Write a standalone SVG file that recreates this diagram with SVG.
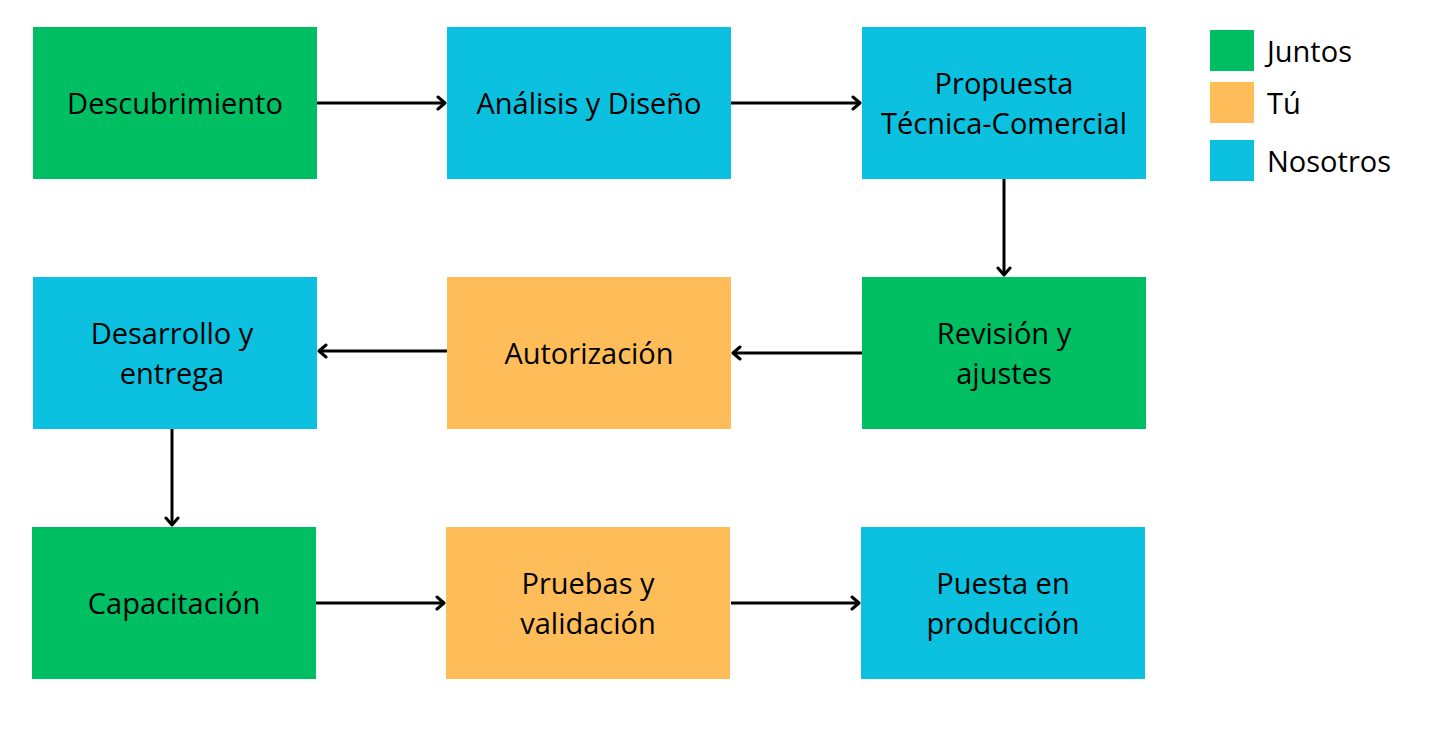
<svg xmlns="http://www.w3.org/2000/svg" width="1432" height="747" viewBox="0 0 1432 747">
<defs>
<marker id="arr" markerUnits="userSpaceOnUse" markerWidth="16" markerHeight="16" refX="10" refY="8" orient="auto">
<path d="M3,2 L10,8 L3,14" fill="none" stroke="#000" stroke-width="3" stroke-linecap="round" stroke-linejoin="round"/>
</marker>
</defs>
<style>
.t{font-family:"Open Sans","Noto Sans","Liberation Sans",sans-serif;font-size:29px;fill:#000;text-anchor:middle}
.l{font-family:"Open Sans","Noto Sans","Liberation Sans",sans-serif;font-size:29px;fill:#000}
.g{fill:#00BF63}.b{fill:#0CC0DF}.o{fill:#FFBD59}
.c{stroke:#000;stroke-width:3;fill:none;marker-end:url(#arr)}
</style>
<rect width="1432" height="747" fill="#fff"/>
<g id="connectors">
<line class="c" x1="317" y1="103" x2="445" y2="103"/>
<line class="c" x1="731" y1="103" x2="860" y2="103"/>
<line class="c" x1="1004" y1="179" x2="1004" y2="275"/>
<line class="c" x1="862" y1="353" x2="733" y2="353"/>
<line class="c" x1="447" y1="351" x2="319" y2="351"/>
<line class="c" x1="172" y1="429" x2="172" y2="525"/>
<line class="c" x1="316" y1="603" x2="444" y2="603"/>
<line class="c" x1="731" y1="603" x2="859" y2="603"/>
</g>
<g id="descubrimiento"><rect class="g" x="33" y="27" width="284" height="152"/><text class="t" x="175" y="114">Descubrimiento</text></g>
<g id="analisis"><rect class="b" x="447" y="27" width="284" height="152"/><text class="t" x="589" y="114">Análisis y Diseño</text></g>
<g id="propuesta"><rect class="b" x="862" y="27" width="284" height="152"/><text class="t" x="1004" y="94">Propuesta</text><text class="t" x="1004" y="134">Técnica-Comercial</text></g>
<g id="desarrollo"><rect class="b" x="33" y="277" width="284" height="152"/><text class="t" x="172" y="344">Desarrollo y</text><text class="t" x="172" y="384">entrega</text></g>
<g id="autorizacion"><rect class="o" x="447" y="277" width="284" height="152"/><text class="t" x="589" y="364">Autorización</text></g>
<g id="revision"><rect class="g" x="862" y="277" width="284" height="152"/><text class="t" x="1004" y="344">Revisión y</text><text class="t" x="1004" y="384">ajustes</text></g>
<g id="capacitacion"><rect class="g" x="32" y="527" width="284" height="152"/><text class="t" x="174" y="614">Capacitación</text></g>
<g id="pruebas"><rect class="o" x="446" y="527" width="284" height="152"/><text class="t" x="588" y="594">Pruebas y</text><text class="t" x="588" y="634">validación</text></g>
<g id="puesta"><rect class="b" x="861" y="527" width="284" height="152"/><text class="t" x="1003" y="594">Puesta en</text><text class="t" x="1003" y="634">producción</text></g>
<g id="legend">
<rect class="g" x="1210" y="30" width="44" height="41"/><text class="l" x="1267" y="62">Juntos</text>
<rect class="o" x="1210" y="82" width="44" height="41"/><text class="l" x="1267" y="114">Tú</text>
<rect class="b" x="1210" y="140" width="44" height="41"/><text class="l" x="1267" y="172">Nosotros</text>
</g>
</svg>
